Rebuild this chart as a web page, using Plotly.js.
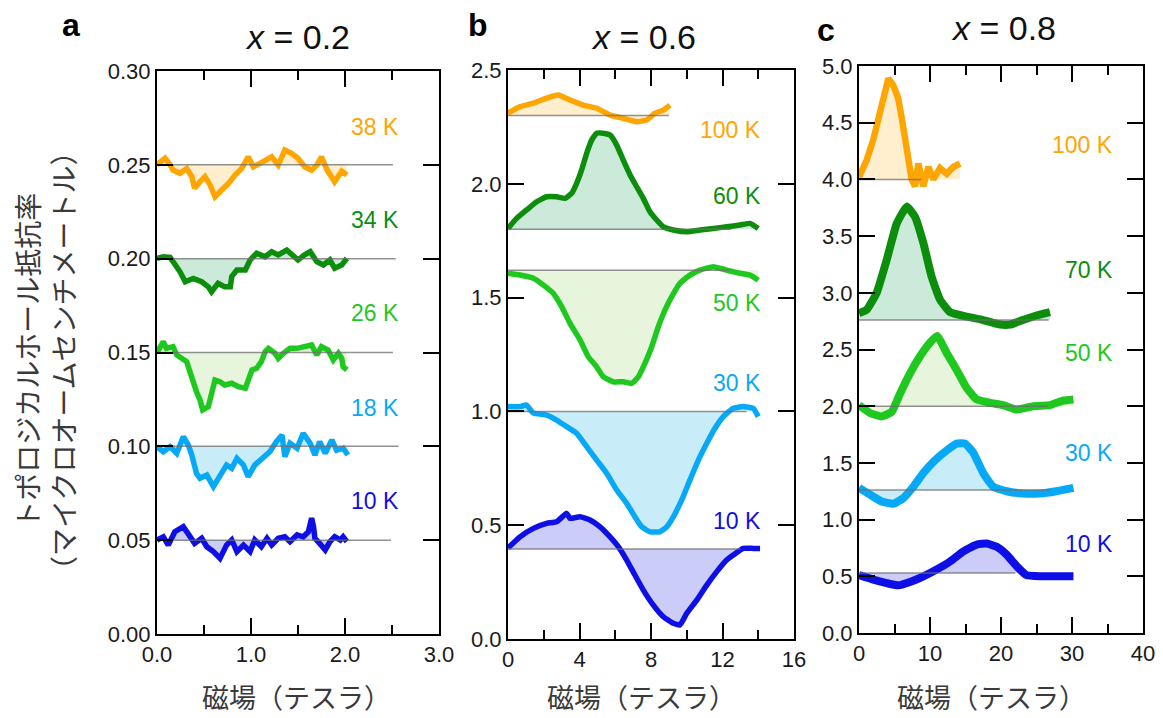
<!DOCTYPE html>
<html>
<head>
<meta charset="utf-8">
<script src="https://cdn.plot.ly/plotly-3.0.1.min.js"></script>
<style>html,body{margin:0;padding:0;background:#fff;}#chart{width:1163px;height:718px;}</style>
</head>
<body>
<div id="chart"></div>
<script>
// ---------- Panel a : x = 0.2 ----------
const aField38 = [0,0.085,0.14,0.17,0.245,0.316,0.37,0.40,0.457,0.51,0.564,0.617,0.688,0.759,0.83,0.90,0.97,1.025,1.096,1.167,1.22,1.29,1.36,1.43,1.50,1.57,1.645,1.70,1.75,1.81,1.89,1.965,2.02];
const aRho38   = [0.250,0.2535,0.250,0.2472,0.2455,0.248,0.2437,0.2375,0.241,0.2437,0.2393,0.233,0.2366,0.240,0.2446,0.248,0.2543,0.249,0.2508,0.2526,0.2543,0.2499,0.2579,0.2561,0.2535,0.249,0.2472,0.2499,0.2543,0.2472,0.241,0.2466,0.2446];
const aField34 = [0,0.067,0.14,0.19,0.245,0.30,0.386,0.475,0.546,0.58,0.65,0.72,0.78,0.795,0.85,0.94,0.99,1.06,1.15,1.22,1.29,1.38,1.45,1.50,1.57,1.63,1.70,1.77,1.84,1.89,1.965,2.02];
const aRho34   = [0.2002,0.201,0.2007,0.1975,0.193,0.1877,0.1895,0.1877,0.185,0.1824,0.1869,0.185,0.185,0.1904,0.194,0.194,0.1993,0.2029,0.201,0.2037,0.202,0.2046,0.202,0.1993,0.202,0.2037,0.1984,0.1966,0.1993,0.1949,0.1966,0.2002];
const aField26 = [0,0.067,0.10,0.17,0.21,0.26,0.316,0.35,0.386,0.42,0.457,0.486,0.546,0.58,0.617,0.67,0.72,0.795,0.865,0.94,0.97,1.01,1.06,1.11,1.15,1.185,1.255,1.29,1.345,1.415,1.49,1.555,1.645,1.70,1.75,1.82,1.875,1.93,1.965,1.98,2.02];
const aRho26   = [0.1499,0.1558,0.1522,0.1531,0.1487,0.1469,0.1451,0.1398,0.1336,0.1291,0.1247,0.1194,0.1211,0.1291,0.1353,0.1344,0.1327,0.1336,0.1318,0.1309,0.1344,0.1407,0.1416,0.1451,0.1504,0.1522,0.1496,0.1469,0.1496,0.1522,0.1522,0.1531,0.154,0.1487,0.1531,0.1513,0.146,0.1496,0.1469,0.1424,0.1407];
const aField18 = [0,0.067,0.14,0.21,0.28,0.333,0.37,0.42,0.457,0.53,0.60,0.67,0.74,0.795,0.85,0.92,0.97,1.04,1.13,1.20,1.27,1.33,1.36,1.415,1.49,1.555,1.63,1.68,1.73,1.79,1.86,1.91,1.98,2.03];
const aRho18   = [0.0998,0.0971,0.0998,0.0963,0.1051,0.1007,0.0954,0.0856,0.083,0.0847,0.0785,0.0847,0.090,0.0883,0.0936,0.090,0.0838,0.090,0.0945,0.0971,0.1025,0.106,0.0945,0.1016,0.099,0.107,0.1016,0.0954,0.1025,0.0963,0.1034,0.098,0.099,0.0954];
const aField10 = [0,0.067,0.12,0.19,0.28,0.333,0.40,0.475,0.53,0.60,0.67,0.74,0.795,0.85,0.92,0.99,1.04,1.11,1.17,1.22,1.29,1.36,1.415,1.49,1.555,1.61,1.645,1.665,1.68,1.73,1.79,1.84,1.89,1.95,1.98,2.02];
const aRho10   = [0.0501,0.0518,0.0474,0.0545,0.0572,0.0528,0.0483,0.051,0.0465,0.0439,0.0403,0.0474,0.0501,0.0439,0.0474,0.0439,0.0501,0.0465,0.051,0.0474,0.051,0.0518,0.0492,0.0528,0.0518,0.0545,0.0617,0.0572,0.051,0.0483,0.0448,0.0492,0.0518,0.0501,0.0518,0.0492];
const aLabels   = ['38 K','34 K','26 K','18 K','10 K'];
const aBaseline = [0.25,0.20,0.15,0.10,0.05];
const aBaseEnd  = [2.51,2.54,2.51,2.57,2.49];
const aLabelY   = [0.270,0.2206,0.171,0.1204,0.0709];

// ---------- Panel b : x = 0.6 ----------
const bField100 = [0,0.67,1.42,2.16,2.81,3.47,4.21,4.96,5.71,6.45,7.20,7.76,8.22,8.69,9.06];
const bRho100   = [2.310,2.339,2.354,2.376,2.390,2.368,2.346,2.332,2.302,2.288,2.273,2.280,2.310,2.324,2.346];
const bField60  = [0,0.48,1.04,1.60,2.16,2.72,3.19,3.56,3.84,4.12,4.40,4.68,4.96,5.33,5.71,6.08,6.45,6.83,7.20,7.57,7.94,8.32,8.69,9.25,10.0,10.74,11.49,12.23,12.98,13.54,14.0];
const bRho60    = [1.804,1.848,1.885,1.921,1.943,1.943,1.936,1.958,2.002,2.061,2.134,2.192,2.222,2.222,2.214,2.170,2.104,2.039,1.987,1.936,1.877,1.841,1.811,1.797,1.789,1.797,1.804,1.811,1.819,1.826,1.804];
const bField50  = [0,0.67,1.42,1.98,2.53,3.00,3.47,4.03,4.49,4.96,5.33,5.89,6.45,6.92,7.29,7.66,8.04,8.41,8.78,9.16,9.62,10.18,10.74,11.49,12.23,12.98,13.54,14.0];
const bRho50    = [1.607,1.599,1.585,1.555,1.519,1.460,1.387,1.314,1.240,1.196,1.152,1.130,1.130,1.123,1.152,1.211,1.284,1.372,1.445,1.504,1.563,1.599,1.621,1.636,1.621,1.607,1.599,1.577];
const bField30  = [0,0.67,1.04,1.42,2.16,2.72,3.28,3.84,4.40,4.96,5.52,6.08,6.64,7.10,7.48,7.94,8.50,8.88,9.25,9.72,10.18,10.65,11.12,11.58,12.05,12.60,13.16,13.72,14.0];
const bRho30    = [1.021,1.021,1.028,0.992,0.984,0.962,0.933,0.904,0.845,0.786,0.728,0.655,0.596,0.537,0.493,0.471,0.471,0.493,0.537,0.611,0.699,0.786,0.860,0.926,0.977,1.014,1.021,1.014,0.977];
const bField10  = [0,0.67,1.42,2.16,2.72,3.28,3.47,4.03,4.59,5.15,5.71,6.17,6.64,7.10,7.57,8.13,8.69,9.25,9.62,10.0,10.56,11.12,11.68,12.23,12.60,13.16,13.72,14.1];
const bRho10    = [0.400,0.449,0.486,0.508,0.515,0.552,0.530,0.537,0.523,0.493,0.449,0.406,0.347,0.281,0.215,0.149,0.098,0.069,0.062,0.113,0.171,0.237,0.296,0.347,0.369,0.398,0.398,0.398];
const bLabels   = ['100 K','60 K','50 K','30 K','10 K'];
const bBaseline = [2.30,1.80,1.62,1.00,0.395];
const bBaseEnd  = [9.0,12.5,12.4,13.35,13.0];
const bLabelY   = [2.236,1.946,1.476,1.125,0.518];

// ---------- Panel c : x = 0.8 ----------
const cField100 = [0,1.08,2.01,2.96,3.66,4.13,4.83,5.5,6.0,6.5,7.0,7.42,7.89,8.36,9.06,9.77,10.47,11.41,12.35,13.28,14.23];
const cRho100   = [4.02,4.17,4.35,4.58,4.79,4.89,4.83,4.72,4.55,4.35,4.22,4.00,3.94,4.14,3.94,4.11,4.00,4.10,4.05,4.11,4.14];
const cField70  = [0,1.08,2.49,3.90,5.31,6.72,7.89,9.06,10.24,11.41,12.82,15.17,17.5,19.86,21.3,23.1,25.0,26.9];
const cRho70    = [2.82,2.85,3.00,3.29,3.61,3.76,3.67,3.44,3.14,2.94,2.83,2.79,2.76,2.72,2.72,2.76,2.80,2.83];
const cField50  = [0,1.55,3.19,4.6,5.77,7.18,8.59,10.0,11.0,12.35,13.76,15.17,16.58,18.45,20.3,22.2,24.55,26.9,28.8,30.2];
const cRho50    = [2.01,1.94,1.91,1.95,2.11,2.29,2.44,2.56,2.62,2.47,2.32,2.16,2.06,2.03,2.01,1.97,2.00,2.01,2.05,2.06];
const cField30  = [0,1.55,3.19,4.83,6.24,7.65,9.06,10.47,12.35,13.76,14.93,16.1,17.5,18.9,20.8,23.1,25.5,27.8,30.2];
const cRho30    = [1.28,1.22,1.16,1.14,1.19,1.29,1.41,1.51,1.61,1.67,1.67,1.59,1.41,1.29,1.25,1.23,1.23,1.25,1.28];
const cField10  = [0,2.01,3.90,5.54,7.18,9.06,10.94,12.82,14.69,16.58,17.99,19.4,20.8,22.2,23.6,25.5,27.8,30.2];
const cRho10    = [0.51,0.47,0.44,0.42,0.45,0.50,0.56,0.63,0.72,0.78,0.79,0.76,0.69,0.59,0.51,0.50,0.50,0.50];
const cLabels   = ['100 K','70 K','50 K','30 K','10 K'];
const cBaseline = [4.00,2.76,2.00,1.26,0.53];
const cBaseEnd  = [8.8,26.7,26.6,26.9,22.0];
const cLabelY   = [4.30,3.20,2.47,1.59,0.785];

// ---------- styling ----------
const lineColors = ['#FFA500','#0C8E0C','#1EC81E','#07A9F7','#0E0EE6'];
const fillColors = ['rgba(255,190,60,0.25)','rgba(20,160,80,0.22)','rgba(120,200,60,0.18)','rgba(40,180,230,0.25)','rgba(40,40,230,0.24)'];

const panels = [
  {xa:'x', ya:'y', fields:[aField38,aField34,aField26,aField18,aField10], rhos:[aRho38,aRho34,aRho26,aRho18,aRho10],
   base:aBaseline, baseEnd:aBaseEnd, labels:aLabels, labelY:aLabelY, labelX:2.6, lw:[5.5,5.5,5.5,5.5,5.5], shape:['linear','linear','linear','linear','linear']},
  {xa:'x2', ya:'y2', fields:[bField100,bField60,bField50,bField30,bField10], rhos:[bRho100,bRho60,bRho50,bRho30,bRho10],
   base:bBaseline, baseEnd:bBaseEnd, labels:bLabels, labelY:bLabelY, labelX:14.27, lw:[5.5,5.5,5.5,5.5,5.5], shape:['spline','spline','spline','spline','spline']},
  {xa:'x3', ya:'y3', fields:[cField100,cField70,cField50,cField30,cField10], rhos:[cRho100,cRho70,cRho50,cRho30,cRho10],
   base:cBaseline, baseEnd:cBaseEnd, labels:cLabels, labelY:cLabelY, labelX:36.06, lw:[6.5,8,8,8,8], shape:['linear','spline','spline','spline','spline']}
];

const traces = [];
const annotations = [];
panels.forEach(p => {
  p.fields.forEach((xs, i) => {
    const ys = p.rhos[i];
    // invisible reference line at the baseline for the fill
    traces.push({x:[xs[0], xs[xs.length-1]], y:[p.base[i], p.base[i]], xaxis:p.xa, yaxis:p.ya,
      mode:'lines', line:{width:0, color:'rgba(0,0,0,0)'}, hoverinfo:'skip'});
    traces.push({x:xs, y:ys, xaxis:p.xa, yaxis:p.ya, mode:'lines', fill:'tonexty', fillcolor:fillColors[i],
      line:{color:lineColors[i], width:p.lw[i], shape:p.shape[i], smoothing:0.4}});
  });
  p.fields.forEach((xs, i) => {
    traces.push({x:[0, p.baseEnd[i]], y:[p.base[i], p.base[i]], xaxis:p.xa, yaxis:p.ya,
      mode:'lines', line:{width:1.5, color:'rgba(110,110,110,0.75)'}, hoverinfo:'skip'});
    annotations.push({xref:p.xa, yref:p.ya, x:p.labelX, y:p.labelY[i], text:p.labels[i], showarrow:false,
      xanchor:'right', yanchor:'middle', font:{family:'Liberation Sans, Arial, sans-serif', size:23, color:lineColors[i]}});
  });
});

const W = 1163, H = 718;
const px = v => v / W, py = v => 1 - v / H;

function axis(domain, range, dtick, fmt, minorDtick, anchor) {
  return {
    domain: domain, range: range, dtick: dtick, tick0: 0, tickformat: fmt, anchor: anchor,
    ticks: 'inside', ticklen: 16, tickwidth: 2, tickcolor: '#000',
    showline: true, linewidth: 2, linecolor: '#000', mirror: 'ticks',
    showgrid: false, zeroline: false, fixedrange: true,
    tickfont: {family: 'Liberation Sans, Arial, sans-serif', size: 22, color: '#1a1a1a'},
    minor: minorDtick ? {dtick: minorDtick, tick0: 0, ticks: 'inside', ticklen: 9, tickwidth: 2, tickcolor: '#000', showgrid: false} : undefined
  };
}

const titleFont = {family:'Liberation Sans, Arial, sans-serif', size:34, color:'#111'};
const letterFont = {family:'Liberation Sans, Arial, sans-serif', size:32, color:'#000'};
const cjkFont = {family:'Noto Sans CJK JP, sans-serif', size:27, color:'#3a3a3a'};

[
  {t:'<i>x</i> = 0.2', x:297, y:37}, {t:'<i>x</i> = 0.6', x:643, y:37}, {t:'<i>x</i> = 0.8', x:1003, y:28}
].forEach(o => annotations.push({xref:'paper', yref:'paper', x:px(o.x), y:py(o.y), text:o.t, showarrow:false,
  xanchor:'center', yanchor:'middle', font:titleFont}));
[
  {t:'<b>a</b>', x:71, y:25}, {t:'<b>b</b>', x:478, y:25}, {t:'<b>c</b>', x:826, y:30}
].forEach(o => annotations.push({xref:'paper', yref:'paper', x:px(o.x), y:py(o.y), text:o.t, showarrow:false,
  xanchor:'center', yanchor:'middle', font:letterFont}));
[
  {x:296}, {x:641}, {x:991}
].forEach(o => annotations.push({xref:'paper', yref:'paper', x:px(o.x), y:py(696), text:'磁場（テスラ）', showarrow:false,
  xanchor:'center', yanchor:'middle', font:cjkFont}));
annotations.push({xref:'paper', yref:'paper', x:px(45), y:py(361), textangle:-90, showarrow:false,
  text:'トポロジカルホール抵抗率<br>（マイクロオームセンチメートル）', xanchor:'center', yanchor:'middle',
  font:{family:'Noto Sans CJK JP, sans-serif', size:28, color:'#3a3a3a'}});

const layout = {
  width: W, height: H, margin: {l:0, r:0, t:0, b:0},
  paper_bgcolor: '#fff', plot_bgcolor: '#fff', showlegend: false,
  xaxis:  axis([px(157), px(439)], [0, 3], 1, '.1f', 0.5, 'y'),
  yaxis:  axis([py(634), py(71)], [0, 0.30], 0.05, '.2f', null, 'x'),
  xaxis2: axis([px(508), px(794)], [0, 16], 4, 'd', 2, 'y2'),
  yaxis2: axis([py(639), py(70)], [0, 2.5], 0.5, '.1f', null, 'x2'),
  xaxis3: axis([px(859), px(1143)], [0, 40], 10, 'd', 5, 'y3'),
  yaxis3: axis([py(633), py(66)], [0, 5], 0.5, '.1f', null, 'x3'),
  annotations: annotations
};

Plotly.newPlot('chart', traces, layout, {displayModeBar:false, staticPlot:true});
</script>
</body>
</html>
